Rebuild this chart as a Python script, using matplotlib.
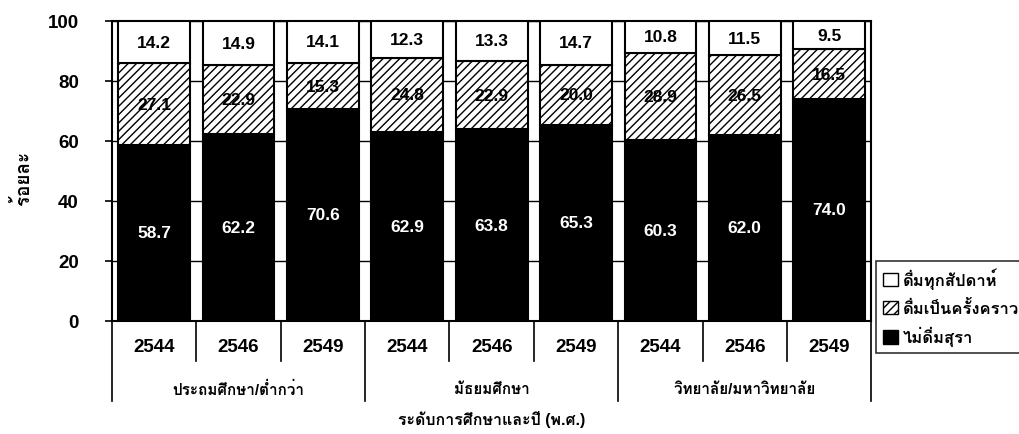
import numpy as np
import matplotlib
matplotlib.use("Agg")
import matplotlib.pyplot as plt
from matplotlib import font_manager
from matplotlib.ft2font import FT2Font
from matplotlib.patches import Patch

# data
years = ['2544', '2546', '2549', '2544', '2546', '2549', '2544', '2546', '2549']
groups = ['ประถมศึกษา/ต่ำกว่า', 'มัธยมศึกษา', 'วิทยาลัย/มหาวิทยาลัย']
no_drink = [58.7, 62.2, 70.6, 62.9, 63.8, 65.3, 60.3, 62.0, 74.0]
sometimes = [27.1, 22.9, 15.3, 24.8, 22.9, 20.0, 28.9, 26.5, 16.5]
weekly = [14.2, 14.9, 14.1, 12.3, 13.3, 14.7, 10.8, 11.5, 9.5]
series_names = ['ดื่มทุกสัปดาห์', 'ดื่มเป็นครั้งคราว', 'ไม่ดื่มสุรา']


def find_thai_font():
    # look for any installed font that has Thai glyphs
    for f in font_manager.fontManager.ttflist:
        try:
            if 0x0E01 in FT2Font(f.fname).get_charmap():
                return f.name
        except Exception:
            pass
    return None


thai = find_thai_font()
fams = ['Liberation Sans']
if thai:
    fams.append(thai)
fams.append('DejaVu Sans')
plt.rcParams['font.family'] = fams
plt.rcParams['font.weight'] = 'bold'
plt.rcParams['hatch.linewidth'] = 1.0

fig = plt.figure(figsize=(10.19, 4.35), dpi=100)
ax = fig.add_axes([0.110, 0.260, 0.745, 0.690])

x = np.arange(len(years))
w = 0.85
no_drink = np.array(no_drink)
sometimes = np.array(sometimes)
weekly = np.array(weekly)

ax.bar(x, no_drink, w, color='black', edgecolor='black', lw=1.5, zorder=3)
ax.bar(x, sometimes, w, bottom=no_drink, color='white', edgecolor='black',
       hatch='////', lw=1.5, zorder=3)
ax.bar(x, weekly, w, bottom=no_drink + sometimes, color='white',
       edgecolor='black', lw=1.5, zorder=3)

for i in range(len(x)):
    ax.text(x[i], no_drink[i] / 2, f'{no_drink[i]:.1f}', ha='center', va='center',
            color='white', fontsize=12.5, zorder=4)
    ax.text(x[i], no_drink[i] + sometimes[i] / 2, f'{sometimes[i]:.1f}', ha='center',
            va='center', color='black', fontsize=12.5, zorder=4)
    ax.text(x[i], 100 - weekly[i] / 2, f'{weekly[i]:.1f}', ha='center', va='center',
            color='black', fontsize=12.5, zorder=4)

ax.set_xlim(-0.5, len(x) - 0.5)
ax.set_ylim(0, 100)
ax.set_yticks([0, 20, 40, 60, 80, 100])
ax.tick_params(axis='y', direction='out', length=5, width=1.2, pad=19, labelsize=13.5)
ax.set_xticks([])
ax.yaxis.grid(True, color='black', lw=1.0, zorder=0)
ax.set_axisbelow(True)
for s in ax.spines.values():
    s.set_linewidth(1.5)

# year labels and separators under the axis
tr = ax.get_xaxis_transform()
for i in range(len(x)):
    ax.text(x[i], -0.085, years[i], transform=tr, ha='center', va='center', fontsize=13.5)
for b in np.arange(-0.5, len(x), 1.0):
    long_line = (b + 0.5) % 3 == 0
    ax.plot([b, b], [0, -0.267 if long_line else -0.133], transform=tr, color='black',
            lw=1.2, clip_on=False)
for g in range(len(groups)):
    ax.text(3 * g + 1, -0.228, groups[g], transform=tr, ha='center', va='center',
            fontsize=11)

ax.text(0.5, -0.325, 'ระดับการศึกษาและปี (พ.ศ.)', transform=ax.transAxes,
        ha='center', va='center', fontsize=11.5)
fig.text(0.022, 0.59, 'ร้อยละ', rotation=90, ha='center', va='center', fontsize=13.5)

handles = [Patch(facecolor='white', edgecolor='black'),
           Patch(facecolor='white', edgecolor='black', hatch='////'),
           Patch(facecolor='black', edgecolor='black')]
leg = fig.legend(handles, series_names, loc='lower left', bbox_to_anchor=(0.86, 0.186),
                 fontsize=12, frameon=True, fancybox=False, edgecolor='black',
                 handlelength=0.9, handleheight=0.9, handletextpad=0.3,
                 borderpad=0.4, labelspacing=0.6, borderaxespad=0)
leg.get_frame().set_linewidth(1.2)

fig.savefig('out.png', dpi=100)
